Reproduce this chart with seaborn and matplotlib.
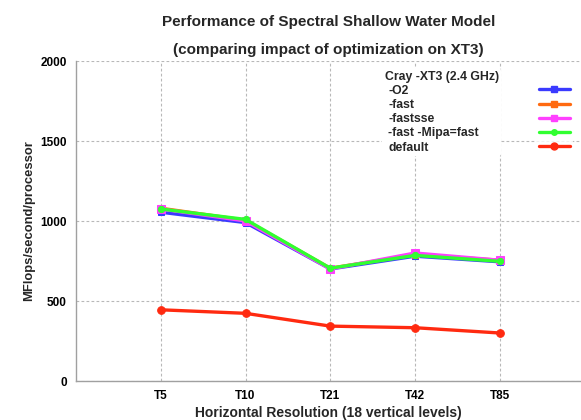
import matplotlib
matplotlib.use("Agg")
import matplotlib.pyplot as plt
import seaborn as sns
import pandas as pd
from matplotlib.lines import Line2D

resolutions = ["T5", "T10", "T21", "T42", "T85"]
series_names = ["-O2", "-fast", "-fastsse", "-fast -Mipa=fast", "default"]
o2 = [1055, 990, 700, 780, 745]
fast = [1080, 1005, 705, 790, 755]
fastsse = [1075, 1000, 700, 800, 755]
mipa = [1075, 1010, 705, 785, 748]
default = [445, 423, 343, 333, 300]
values = [o2, fast, fastsse, mipa, default]

colors = ["#3a3aff", "#ff6a10", "#ff40ff", "#30ff30", "#ff2a10"]
markers = ["s", "s", "s", "o", "o"]
msizes = [4.5, 4.5, 5.5, 4.5, 5.5]

rows = []
for name, vals in zip(series_names, values):
    for i, (r, v) in enumerate(zip(resolutions, vals)):
        rows.append({"series": name, "pos": i + 1, "res": r, "value": v})
df = pd.DataFrame(rows)

sns.set_theme(style="white")
plt.rcParams["font.family"] = ["Liberation Sans", "DejaVu Sans"]
plt.rcParams["font.weight"] = "bold"

fig = plt.figure(figsize=(5.81, 4.20), dpi=100)
W, H = 581, 420
ax = fig.add_axes([76 / W, (H - 381) / H, 505 / W, 320 / H])

for name, c, m, ms in zip(series_names, colors, markers, msizes):
    sub = df[df["series"] == name]
    sns.lineplot(data=sub, x="pos", y="value", ax=ax, color=c, marker=m,
                 markersize=ms, markeredgecolor=c, linewidth=2.4,
                 legend=False, zorder=3)

ax.set_xlim(0, 505 / 84.75)
ax.set_ylim(0, 2000)
ax.set_xticks(range(1, len(resolutions) + 1))
ax.set_xticklabels(resolutions)
ax.set_yticks([0, 500, 1000, 1500, 2000])
ax.tick_params(axis="both", length=0, labelsize=8.5, colors="black")
ax.tick_params(axis="x", pad=6.5)
ax.tick_params(axis="y", pad=6.5)
for lab in ax.get_xticklabels() + ax.get_yticklabels():
    lab.set_fontweight("bold")

ax.grid(True, color="#b8b8b8", linestyle=(0, (2.5, 2)), linewidth=0.8)
for s in ["top", "right"]:
    ax.spines[s].set_visible(False)
for s in ["left", "bottom"]:
    ax.spines[s].set_color("#a0a0a0")
    ax.spines[s].set_linewidth(1.0)

ax.set_xlabel("Horizontal Resolution (18 vertical levels)", fontsize=10,
              fontweight="bold", labelpad=3)
ax.set_ylabel("MFlops/second/processor", fontsize=9.4, fontweight="bold",
              labelpad=4)
ax.set_title("Performance of Spectral Shallow Water Model\n\n"
             "(comparing impact of optimization on XT3)",
             fontsize=11, fontweight="bold", linespacing=1.0, pad=5)

# legend: labels on the left, handles on the right
blank = [Line2D([], [], color="none") for _ in series_names]
leg1 = ax.legend(blank, series_names, title="Cray -XT3 (2.4 GHz)",
                 loc="upper left", bbox_to_anchor=(376 / W, 1 - 62 / H),
                 bbox_transform=fig.transFigure, handlelength=0,
                 handletextpad=0.3, fontsize=8.8, title_fontsize=8.8,
                 labelspacing=0.18, frameon=True, borderpad=0.2,
                 alignment="left")
leg1.get_frame().set_facecolor("white")
leg1.get_frame().set_edgecolor("none")
leg1.get_frame().set_alpha(1)
ax.add_artist(leg1)

handles = [Line2D([], [], color=c, marker=m, markersize=ms - 0.5, linewidth=2.4)
           for c, m, ms in zip(colors, markers, msizes)]
leg2 = ax.legend(handles, [""] * len(handles), title=" ",
                 loc="upper left", bbox_to_anchor=(530 / W, 1 - 62 / H),
                 bbox_transform=fig.transFigure, handlelength=2.6,
                 handletextpad=0, fontsize=8.8, title_fontsize=8.8,
                 labelspacing=0.18, frameon=True, borderpad=0.2)
leg2.get_frame().set_facecolor("white")
leg2.get_frame().set_edgecolor("none")

fig.savefig("out.png", dpi=100)
